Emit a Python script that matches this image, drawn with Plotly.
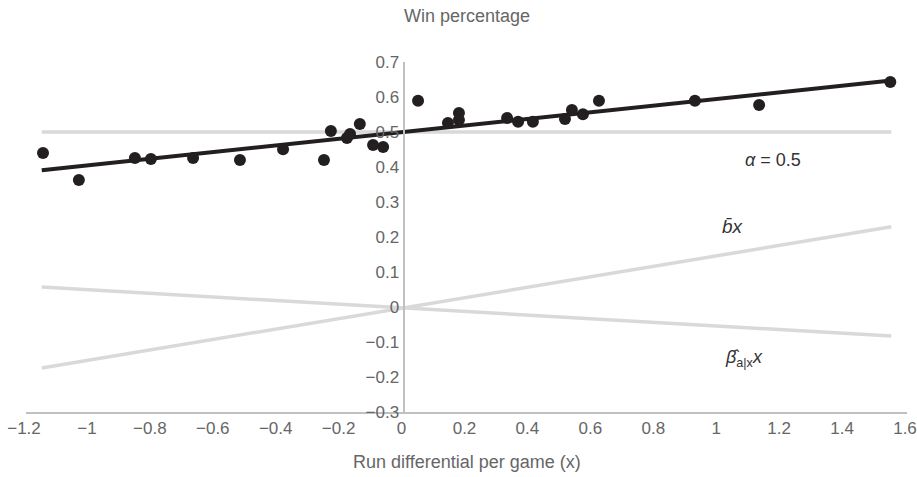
import plotly.graph_objects as go

# Team data: run differential per game (x) vs win percentage (y)
run_diff = [-1.146, -1.032, -0.854, -0.803, -0.669, -0.520, -0.383, -0.253,
            -0.231, -0.180, -0.170, -0.139, -0.097, -0.065, 0.046, 0.141,
            0.176, 0.176, 0.329, 0.364, 0.411, 0.513, 0.535, 0.570,
            0.621, 0.926, 1.130, 1.547]
win_pct = [0.440, 0.363, 0.426, 0.423, 0.426, 0.420, 0.451, 0.420,
           0.503, 0.483, 0.494, 0.523, 0.463, 0.457, 0.589, 0.526,
           0.554, 0.534, 0.540, 0.529, 0.529, 0.537, 0.563, 0.551,
           0.589, 0.589, 0.577, 0.643]

# Line end points
line_x = [-1.15, 1.55]
alpha_y = [0.5, 0.5]
bbar_y = [-0.174, 0.229]
betahat_y = [0.057, -0.083]
fit_y = [0.391, 0.647]

x_ticks = [-1.2, -1, -0.8, -0.6, -0.4, -0.2, 0, 0.2, 0.4, 0.6, 0.8, 1, 1.2, 1.4, 1.6]
y_ticks = [-0.3, -0.2, -0.1, 0, 0.1, 0.2, 0.3, 0.4, 0.5, 0.6, 0.7]

GRAY = "#d9d9d9"
DARK = "#231f20"
TEXT = "#666666"
FONT = "Liberation Sans, Arial, sans-serif"

fig = go.Figure()
for ys in (alpha_y, bbar_y, betahat_y):
    fig.add_trace(go.Scatter(x=line_x, y=ys, mode="lines",
                             line=dict(color=GRAY, width=3.5), hoverinfo="skip"))
fig.add_trace(go.Scatter(x=line_x, y=fit_y, mode="lines",
                         line=dict(color=DARK, width=4), hoverinfo="skip"))
fig.add_trace(go.Scatter(x=run_diff, y=win_pct, mode="markers",
                         marker=dict(color=DARK, size=12)))


def fmt(v):
    return ("−" if v < 0 else "") + f"{abs(v):g}"


fig.update_layout(
    width=917, height=477,
    margin=dict(l=26, r=10, t=62, b=65),
    paper_bgcolor="white", plot_bgcolor="white",
    showlegend=False,
    font=dict(family=FONT, color=TEXT, size=17),
    xaxis=dict(range=[-1.2, 1.6], tickvals=x_ticks,
               ticktext=[fmt(v) for v in x_ticks],
               showgrid=False, zeroline=False, showline=True,
               linecolor="#c0c0c0", linewidth=2, ticks="",
               automargin=False, ticklabelshift=-2,
               tickfont=dict(size=17, color=TEXT)),
    yaxis=dict(range=[-0.3, 0.7], tickvals=y_ticks,
               ticktext=[fmt(v) for v in y_ticks],
               showgrid=False, zeroline=False, showline=True,
               linecolor="#c0c0c0", linewidth=2, ticks="",
               anchor="free", position=1.2 / 2.8, automargin=False,
               tickfont=dict(size=17, color=TEXT)),
    annotations=[
        dict(text="Win percentage", xref="paper", yref="paper", x=0.5, y=1 + 46 / 350,
             showarrow=False, font=dict(size=18, color=TEXT), xanchor="center", yanchor="middle"),
        dict(text="Run differential per game (x)", xref="paper", yref="paper", x=0.5,
             y=-50 / 350, showarrow=False, font=dict(size=18, color=TEXT),
             xanchor="center", yanchor="middle"),
        dict(text="<i>α</i> = 0.5", x=1.174, y=0.42, showarrow=False,
             font=dict(size=18, color="#333333")),
        dict(text="<i>b\u0304x</i>", x=1.047, y=0.229, showarrow=False,
             font=dict(size=19, color="#333333")),
        dict(text="<i>β\u0302</i><sub>a|x</sub><i>x</i>", x=1.082, y=-0.146,
             showarrow=False, font=dict(size=18, color="#333333")),
    ],
)

fig.write_html("out.html", config={"displayModeBar": False},
               post_script="document.body.style.margin='0';document.body.style.overflow='hidden';")
